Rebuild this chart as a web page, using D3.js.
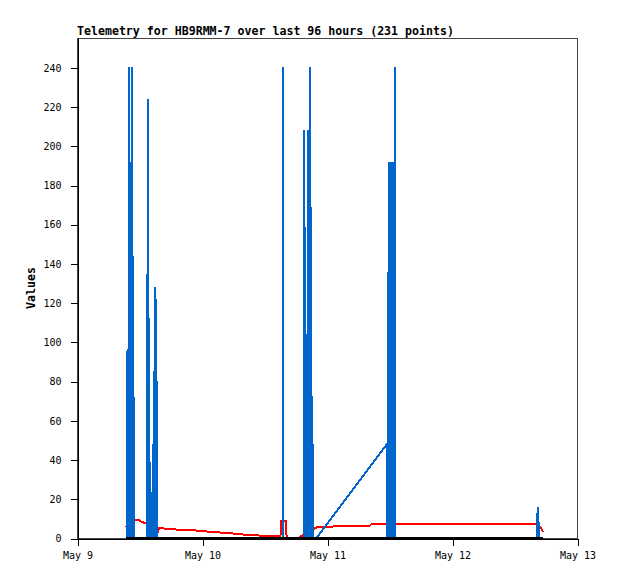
<!DOCTYPE html>
<html>
<head>
<meta charset="utf-8">
<script src="https://cdn.jsdelivr.net/npm/d3@7"></script>
<style>
  body { margin: 0; background: #fff; }
  text { font-family: "DejaVu Sans Mono", monospace; fill: #000; }
</style>
</head>
<body>
<svg id="chart" width="618" height="579"></svg>
<script>
// telemetry readings, time -> value
var blueSeries = [
  ["2024-05-09 09:38", 0], ["2024-05-09 09:42", 96], ["2024-05-09 09:50", 0],
  ["2024-05-09 09:59", 240], ["2024-05-09 10:06", 0], ["2024-05-09 10:14", 192],
  ["2024-05-09 10:23", 0], ["2024-05-09 10:31", 240], ["2024-05-09 10:38", 0],
  ["2024-05-09 10:45", 144], ["2024-05-09 10:51", 0], ["2024-05-09 10:57", 72],
  ["2024-05-09 11:01", 0], ["2024-05-09 13:30", 0], ["2024-05-09 13:34", 224],
  ["2024-05-09 13:44", 0], ["2024-05-09 13:52", 112], ["2024-05-09 13:57", 0],
  ["2024-05-09 14:14", 0], ["2024-05-09 14:19", 21], ["2024-05-09 14:26", 0],
  ["2024-05-09 14:34", 48], ["2024-05-09 14:40", 0], ["2024-05-09 14:46", 85],
  ["2024-05-09 14:55", 0], ["2024-05-09 15:04", 128], ["2024-05-09 15:12", 0],
  ["2024-05-09 15:22", 80], ["2024-05-09 15:26", 0],
  ["2024-05-10 15:31", 0], ["2024-05-10 15:34", 240], ["2024-05-10 15:37", 0],
  ["2024-05-10 19:34", 0], ["2024-05-10 19:38", 208], ["2024-05-10 19:50", 0],
  ["2024-05-10 20:03", 104], ["2024-05-10 20:15", 0], ["2024-05-10 20:26", 208],
  ["2024-05-10 20:36", 0], ["2024-05-10 20:48", 240], ["2024-05-10 20:55", 0],
  ["2024-05-10 21:01", 80], ["2024-05-10 21:07", 0], ["2024-05-10 21:14", 48],
  ["2024-05-10 21:18", 0], ["2024-05-10 21:59", 0],
  ["2024-05-11 11:34", 48], ["2024-05-11 11:37", 0], ["2024-05-11 11:42", 112],
  ["2024-05-11 11:46", 0], ["2024-05-11 11:50", 192], ["2024-05-11 11:58", 0],
  ["2024-05-11 12:07", 96], ["2024-05-11 12:15", 0], ["2024-05-11 12:23", 192],
  ["2024-05-11 12:30", 0], ["2024-05-11 12:38", 192], ["2024-05-11 12:47", 0],
  ["2024-05-11 12:55", 0], ["2024-05-11 13:02", 240], ["2024-05-11 13:06", 0],
  ["2024-05-12 16:22", 0], ["2024-05-12 16:26", 16], ["2024-05-12 16:34", 0],
  ["2024-05-12 16:43", 8], ["2024-05-12 16:47", 0], ["2024-05-12 17:28", 0]
]

var redSeries = [
  ["2024-05-09 09:24", 5.6], ["2024-05-09 10:11", 8.0], ["2024-05-09 11:08", 9.0],
  ["2024-05-09 11:54", 9.0], ["2024-05-09 12:29", 8.2], ["2024-05-09 13:26", 7.3],
  ["2024-05-09 14:24", 6.8], ["2024-05-09 15:22", 6.1], ["2024-05-09 15:33", 2.7],
  ["2024-05-09 15:45", 5.1], ["2024-05-09 16:54", 4.8], ["2024-05-09 18:14", 4.4],
  ["2024-05-09 22:05", 4.0], ["2024-05-10 00:35", 3.4], ["2024-05-10 03:27", 2.8],
  ["2024-05-10 06:20", 2.2], ["2024-05-10 08:38", 1.6], ["2024-05-10 11:31", 1.2],
  ["2024-05-10 13:38", 0.9], ["2024-05-10 15:04", 0.9], ["2024-05-10 15:10", 8.8],
  ["2024-05-10 16:08", 8.8], ["2024-05-10 16:15", 0], ["2024-05-10 18:26", 0],
  ["2024-05-10 22:16", 5.8], ["2024-05-11 01:09", 5.8], ["2024-05-11 01:21", 6.3],
  ["2024-05-11 08:15", 6.3], ["2024-05-11 08:27", 7.0], ["2024-05-12 16:19", 7.0],
  ["2024-05-12 16:42", 6.5], ["2024-05-12 17:05", 5.0], ["2024-05-12 17:28", 3.0]
]

var blackSeries = [
  ["2024-05-09 09:28", 0], ["2024-05-10 15:30", 0], ["2024-05-11 12:00", 0],
  ["2024-05-12 17:28", 0]
]

var yTicks = [0, 20, 40, 60, 80, 100, 120, 140, 160, 180, 200, 220, 240]
var xRange = ["2024-05-09 00:00", "2024-05-13 00:00"]
var title = "Telemetry for HB9RMM-7 over last 96 hours (231 points)"

var parse = d3.timeParse("%Y-%m-%d %H:%M")
var plotLeft = 77, plotRight = 577, plotTop = 38, plotBottom = 538

var svg = d3.select("#chart")
svg.append("rect").attr("width", 618).attr("height", 579).attr("fill", "#fff")

var x = d3.scaleTime().domain(xRange.map(parse)).range([plotLeft, plotRight])
var y = d3.scaleLinear().domain([0, 255]).range([plotBottom, plotTop])

// frame
svg.append("rect")
  .attr("x", plotLeft + 0.5).attr("y", plotTop + 0.5)
  .attr("width", plotRight - plotLeft).attr("height", plotBottom - plotTop)
  .attr("fill", "none").attr("stroke", "#444")
  .attr("shape-rendering", "crispEdges")

svg.append("g")
  .attr("transform", "translate(0.5," + (plotBottom + 0.5) + ")")
  .call(d3.axisBottom(x).ticks(d3.timeDay.every(1))
    .tickFormat(d3.timeFormat("%b %-d")).tickSize(7).tickSizeOuter(0).tickPadding(6))

svg.append("g")
  .attr("transform", "translate(" + (plotLeft + 0.5) + ",0.5)")
  .call(d3.axisLeft(y).tickValues(yTicks).tickSize(7).tickSizeOuter(0).tickPadding(9))

svg.selectAll(".domain, .tick line")
  .attr("stroke", "#000").attr("shape-rendering", "crispEdges")
svg.selectAll(".tick text").style("font-size", "10px").attr("fill", "#000")

svg.append("text")
  .attr("x", plotLeft).attr("y", 35)
  .style("font-size", "11.6px").style("font-weight", "bold")
  .text(title)

svg.append("text")
  .attr("transform", "translate(35," + ((plotTop + plotBottom) / 2) + ") rotate(-90)")
  .attr("text-anchor", "middle")
  .style("font-size", "11.6px").style("font-weight", "bold")
  .text("Values")

var line = d3.line()
  .x(function(d) { return x(parse(d[0])) })
  .y(function(d) { return y(d[1]) })

function drawSeries(data, color, width) {
  svg.append("path")
    .datum(data)
    .attr("d", line)
    .attr("fill", "none")
    .attr("stroke", color)
    .attr("stroke-width", width)
    .attr("stroke-linejoin", "bevel")
    .attr("shape-rendering", "crispEdges")
}

drawSeries(redSeries, "#ff0000", 2)
drawSeries(blueSeries, "#0066cc", 2)
drawSeries(blackSeries, "#000", 2.5)
</script>
</body>
</html>
